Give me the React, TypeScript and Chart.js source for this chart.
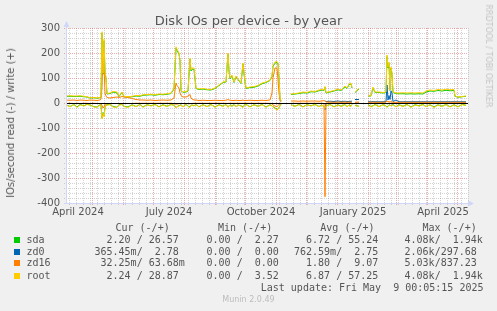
import React, { useEffect, useRef } from 'react';
import { Chart, registerables } from 'chart.js';

Chart.register(...registerables);

// ---------- data (x = days since 5 Apr 2024) ----------
const days = [
  0, 4, 8, 11, 14, 18, 21, 24, 28, 31,
  34, 35, 36, 37, 38, 39, 40, 41, 44, 47,
  51, 53, 56, 58, 62, 66, 70, 74, 77, 81,
  85, 89, 93, 97, 101, 105, 108, 110, 111, 113,
  114, 115, 117, 120, 122, 124, 125, 126, 128, 130,
  133, 137, 141, 145, 149, 153, 157, 160, 162, 163,
  164, 166, 168, 170, 172, 175, 177, 178, 180, 184,
  188, 192, 196, 200, 204, 206, 207, 209, 211, 212,
  213, 214, 215, 220, 225, 229, 233, 237, 241, 245,
  249, 253, 256, 258, 259, 260, 264, 268, 272, 275,
  279, 281, 283, 285, 286, 287, 289, 293, 297, 302,
  305, 307, 309, 313, 317, 320, 321, 322, 323, 324,
  325, 326, 327, 330, 333, 337, 341, 345, 349, 353,
  357, 360, 364, 368, 372, 376, 380, 384, 388, 389,
  392, 396, 400,
];

const rootWrite = [
  28, 29, 28, 28, 29, 27, 25, 21, 22, 20,
  22, 25, 285, 120, 255, 130, 100, 38, 40, 46,
  44, 28, 44, 27, 25, 27, 30, 29, 33, 34,
  35, 33, 36, 35, 37, 40, 60, 225, 215, 200,
  172, 52, 44, 46, 50, 180, 132, 140, 140, 60,
  56, 58, 55, 54, 60, 72, 84, 86, 200, 132,
  100, 112, 84, 108, 96, 80, 160, 120, 60, 64,
  66, 70, 80, 84, 92, 110, 150, 164, 166, 160,
  100, 20, 10, null, 36, 38, 40, 44, 42, 48,
  46, 52, 54, 52, 66, 42, 46, 50, 56, 52,
  68, 60, 76, 80, 62, null, 44, 60, null, 28,
  30, 64, 44, 44, 42, 44, 192, 144, 164, 52,
  144, 120, 44, 40, 40, 41, 40, 41, 40, 41,
  40, 48, 52, 50, 54, 52, 55, 53, 54, 28,
  24, 26, 28,
];

const sdaWrite = [
  26, 27, 26, 26, 27, 25, 24, 20, 21, 19,
  21, 24, 280, 115, 248, 125, 96, 36, 38, 44,
  40, 26, 42, 25, 24, 25, 28, 27, 31, 32,
  33, 31, 34, 33, 35, 38, 56, 220, 210, 196,
  168, 50, 42, 44, 48, 176, 128, 136, 134, 58,
  54, 56, 53, 52, 58, 70, 82, 84, 196, 128,
  97, 108, 82, 105, 94, 78, 156, 116, 58, 62,
  63, 68, 77, 82, 90, 106, 146, 160, 162, 156,
  96, 18, 9, null, 34, 36, 38, 41, 40, 45,
  44, 49, 52, 50, 64, 40, 44, 48, 53, 50,
  65, 58, 73, 77, 60, null, 42, 57, null, 27,
  29, 60, 42, 42, 40, 42, 186, 140, 158, 50,
  140, 115, 42, 38, 37, 37, 36, 37, 36, 37,
  36, 44, 48, 47, 50, 48, 51, 49, 50, 27,
  23, 25, 27,
];

const rootRead = [
  -8, -15, -6, -18, -7, -12, -6, -8, -16, -17,
  -8, -10, -64, -40, -55, -20, -10, -8, -6, -16,
  -18, -8, -6, -14, -18, -8, -15, -6, -17, -7,
  -12, -6, -16, -8, -14, -6, -10, -20, -15, -12,
  -10, -8, -16, -6, -14, -18, -10, -8, -12, -6,
  -16, -7, -15, -6, -17, -8, -14, -6, -18, -12,
  -8, -14, -6, -16, -8, -12, -18, -10, -6, -16,
  -7, -14, -6, -17, -8, -12, -16, -22, -28, -26,
  -20, -12, -6, null, -8, -14, -6, -16, -7, -12,
  -6, -15, -8, -18, -20, -12, -6, -16, -8, -14,
  -6, -16, -8, -14, -6, null, -10, -14, null, -8,
  -16, -12, -6, -15, -7, -12, -18, -14, -10, -8,
  -12, -10, -6, -16, -8, -14, -6, -17, -8, -12,
  -6, -15, -7, -18, -8, -14, -6, -16, -8, -10,
  -16, -6, -10,
];

const sdaRead = [
  -7, -14, -6, -16, -6, -11, -5, -8, -15, -16,
  -7, -9, -60, -38, -52, -18, -9, -7, -6, -14,
  -17, -7, -6, -13, -16, -7, -14, -6, -16, -7,
  -11, -6, -15, -7, -13, -6, -9, -18, -14, -11,
  -9, -7, -15, -5, -13, -16, -9, -8, -11, -6,
  -15, -7, -14, -6, -16, -7, -13, -6, -16, -11,
  -7, -13, -6, -15, -8, -11, -16, -9, -6, -15,
  -7, -13, -6, -16, -7, -11, -15, -20, -26, -24,
  -18, -11, -5, null, -7, -13, -6, -15, -7, -11,
  -6, -14, -7, -16, -18, -11, -6, -15, -7, -13,
  -6, -15, -7, -13, -6, null, -9, -13, null, -7,
  -14, -11, -6, -14, -7, -11, -16, -13, -9, -7,
  -11, -9, -6, -15, -7, -13, -6, -16, -7, -11,
  -6, -14, -7, -16, -7, -13, -6, -15, -7, -9,
  -15, -6, -9,
];

const zd16Write = [
  12, 11, 12, 10, 12, 11, 10, 12, 11, 10,
  12, 15, 60, 190, 150, 40, 28, 22, 20, 22,
  24, 22, 26, 24, 22, 18, 14, 12, 12, 11,
  12, 10, 11, 12, 11, 12, 20, 80, 70, 60,
  40, 30, 24, 24, 28, 34, 20, 16, 12, 12,
  10, 11, 10, 10, 11, 10, 10, 11, 14, 12,
  11, 10, 10, 11, 10, 10, 12, 10, 10, 11,
  10, 10, 11, 10, 12, 40, 100, 140, 140, 92,
  40, 10, 4, null, 8, 8, 7, 8, 7, 8,
  8, 7, 8, 10, 8, 4, 4, 3, 4, 3,
  4, 3, 4, 3, 4, null, 3, 4, null, 3,
  3, 4, 3, 3, 3, 4, 8, 6, 5, 4,
  6, 5, 3, 3, 3, 3, 3, 3, 3, 3,
  3, 3, 3, 3, 3, 3, 3, 3, 3, 3,
  3, 3, 3,
];

const zd16Read = [
  -2, -1, -2, -1, -2, -1, -1, -2, -1, -2,
  -2, -3, -10, -20, -15, -5, -3, -2, -2, -2,
  -2, -2, -2, -2, -2, -2, -1, -1, -1, -1,
  -1, -1, -1, -1, -1, -1, -2, -5, -4, -3,
  -2, -2, -2, -2, -2, -3, -2, -2, -1, -1,
  -1, -1, -1, -1, -1, -1, -1, -1, -2, -1,
  -1, -1, -1, -1, -1, -1, -1, -1, -1, -1,
  -1, -1, -1, -1, -1, -3, -8, -12, -15, -10,
  -5, -2, -1, null, -1, -1, -1, -1, -1, -1,
  -1, -1, -1, -2, -375, -2, -1, -1, -1, -1,
  -1, -1, -1, -1, -1, null, -1, -1, null, -1,
  -1, -1, -1, -1, -1, -1, -2, -1, -1, -1,
  -1, -1, -1, -1, -1, -1, -1, -1, -1, -1,
  -1, -1, -1, -1, -1, -1, -1, -1, -1, -1,
  -1, -1, -1,
];

const zd0Days = [
  259, 260, 264, 268, 272, 275, 279, 281, 283, 285,
  286, 287, 289, 293, 297, 302, 305, 307, 309, 313,
  317, 320, 321, 322, 323, 324, 325, 326, 327, 330,
  333, 337, 341, 345, 349, 353, 357, 360, 364, 368,
  372, 376, 380, 384, 388, 389, 392, 396, 400,
];

const zd0Write = [
  8, 6, 7, 6, 8, 6, 7, 6, 6, 7,
  7, null, 14, 14, null, 5, 5, 6, 5, 5,
  5, 6, 72, 12, 30, 14, 48, 40, 6, 12,
  5, 5, 5, 5, 5, 5, 5, 5, 5, 5,
  5, 5, 5, 5, 5, 5, 5, 5, 5,
];

const zd0Read = [
  -28, -2, -1, -1, -1, -1, -1, -1, -1, -1,
  -1, null, -1, -1, null, -1, -1, -1, -1, -1,
  -1, -1, -4, -2, -2, -1, -3, -2, -1, -1,
  -1, -1, -1, -1, -1, -1, -1, -1, -1, -1,
  -1, -1, -1, -1, -1, -1, -1, -1, -1,
];

// ---------- axes ----------
const xMin = 0;
const xMax = 402;
const monthStartDays = [26, 57, 87, 118, 149, 179, 210, 240, 271, 302, 330, 361, 391];
const firstMondayDay = 3;
const xLabelDays = [12, 103, 195, 287, 377];
const xLabels = ['April 2024', 'July 2024', 'October 2024', 'January 2025', 'April 2025'];
const yMin = -400;
const yMax = 300;
const yTickValues = [-400, -300, -200, -100, 0, 100, 200, 300];
const yMinorStep = 20;

// ---------- legend ----------
const legendNames = ['sda', 'zd0', 'zd16', 'root'];
const legendColors = ['#00CC00', '#0066B3', '#FF8000', '#FFCC00'];
const curValues = ['  2.20 / 26.57 ', '365.45m/  2.78 ', ' 32.25m/ 63.68m', '  2.24 / 28.87 '];
const minValues = ['  0.00 /  2.27 ', '  0.00 /  0.00 ', '  0.00 /  0.00 ', '  0.00 /  3.52 '];
const avgValues = ['  6.72 / 55.24 ', '762.59m/  2.75 ', '  1.80 /  9.07 ', '  6.87 / 57.25 '];
const maxValues = ['  4.08k/  1.94k', '  2.06k/297.68 ', '  5.03k/837.23 ', '  4.08k/  1.94k'];
const headers = ['Cur (-/+)', 'Min (-/+)', 'Avg (-/+)', 'Max (-/+)'];

const SANS = "'DejaVu Sans', 'Liberation Sans', sans-serif";
const MONO = "'DejaVu Sans Mono', 'Liberation Mono', monospace";
const TEXT = '#555555';
const MINOR = 'rgba(140,140,140,0.38)';
const MAJOR = 'rgba(215,70,70,0.45)';
const AXIS = '#CFD6F8';

const rrdPlugin = {
  id: 'rrd',
  beforeDatasetsDraw(chart: any) {
    const { ctx, chartArea: a, scales } = chart;
    const x = scales.x;
    const y = scales.y;
    ctx.save();
    ctx.fillStyle = '#ffffff';
    ctx.fillRect(a.left, a.top, a.right - a.left, a.bottom - a.top);
    ctx.lineWidth = 1;
    ctx.setLineDash([1, 1]);
    ctx.strokeStyle = MINOR;
    ctx.beginPath();
    for (let v = yMin; v <= yMax; v += yMinorStep) {
      if (yTickValues.includes(v)) continue;
      const py = Math.round(y.getPixelForValue(v)) + 0.5;
      ctx.moveTo(a.left - 2, py);
      ctx.lineTo(a.right, py);
    }
    for (let d = firstMondayDay; d <= xMax; d += 7) {
      if (monthStartDays.includes(d)) continue;
      const px = Math.round(x.getPixelForValue(d)) + 0.5;
      ctx.moveTo(px, a.top);
      ctx.lineTo(px, a.bottom + 2);
    }
    ctx.stroke();
    ctx.strokeStyle = MAJOR;
    ctx.beginPath();
    for (const v of yTickValues) {
      const py = Math.round(y.getPixelForValue(v)) + 0.5;
      ctx.moveTo(a.left - 2, py);
      ctx.lineTo(a.right, py);
    }
    for (const d of monthStartDays) {
      const px = Math.round(x.getPixelForValue(d)) + 0.5;
      ctx.moveTo(px, a.top);
      ctx.lineTo(px, a.bottom + 2);
    }
    ctx.stroke();
    ctx.restore();
  },
  afterDatasetsDraw(chart: any) {
    const { ctx, chartArea: a, scales } = chart;
    const y = scales.y;
    ctx.save();
    ctx.lineWidth = 1;
    ctx.setLineDash([]);
    // zero line
    const zy = Math.round(y.getPixelForValue(0)) + 0.5;
    ctx.strokeStyle = '#000000';
    ctx.beginPath();
    ctx.moveTo(a.left, zy);
    ctx.lineTo(a.right, zy);
    ctx.stroke();
    // axes
    const ax = Math.round(a.left) + 0.5;
    const ay = Math.round(a.bottom) + 0.5;
    ctx.strokeStyle = AXIS;
    ctx.beginPath();
    ctx.moveTo(ax, ay);
    ctx.lineTo(ax, a.top - 2);
    ctx.moveTo(a.left - 2, ay);
    ctx.lineTo(a.right + 1, ay);
    ctx.stroke();
    ctx.fillStyle = AXIS;
    ctx.beginPath();
    ctx.moveTo(ax - 3, a.top - 1);
    ctx.lineTo(ax + 3, a.top - 1);
    ctx.lineTo(ax, a.top - 7);
    ctx.closePath();
    ctx.fill();
    ctx.beginPath();
    ctx.moveTo(a.right, ay - 3);
    ctx.lineTo(a.right, ay + 3);
    ctx.lineTo(a.right + 6, ay);
    ctx.closePath();
    ctx.fill();
    ctx.restore();
  },
};

type TxtProps = {
  x: number;
  y: number;
  text: string;
  align?: 'left' | 'center' | 'right';
  size?: number;
  color?: string;
  font?: string;
  rotate?: number;
};

function Txt({ x, y, text, align = 'left', size = 10, color = TEXT, font = SANS, rotate = 0 }: TxtProps) {
  const tx = align === 'left' ? '0' : align === 'center' ? '-50%' : '-100%';
  return (
    <div
      style={{
        position: 'absolute',
        left: x,
        top: y,
        transform: `translate(${tx}, -50%)` + (rotate ? ` rotate(${rotate}deg)` : ''),
        transformOrigin: rotate ? 'center center' : undefined,
        fontFamily: font,
        fontSize: size,
        lineHeight: 1,
        color,
        whiteSpace: 'pre',
      }}
    >
      {text}
    </div>
  );
}

export default function App() {
  const ref = useRef<HTMLCanvasElement>(null);

  useEffect(() => {
    document.body.style.margin = '0';
    const canvas = ref.current;
    if (!canvas) return;
    const pts = (xs: number[], ys: (number | null)[]) => xs.map((x, i) => ({ x, y: ys[i] }));
    const ds = (label: string, xs: number[], ys: (number | null)[], color: string, order: number) => ({
      label,
      data: pts(xs, ys),
      borderColor: color,
      backgroundColor: color,
      borderWidth: 1,
      pointRadius: 0,
      tension: 0,
      spanGaps: false,
      fill: false,
      order,
    });
    const chart = new Chart(canvas, {
      type: 'line',
      data: {
        datasets: [
          ds('root write', days, rootWrite, legendColors[3], 0),
          ds('root read', days, rootRead, legendColors[3], 0),
          ds('zd16 write', days, zd16Write, legendColors[2], 1),
          ds('zd16 read', days, zd16Read, legendColors[2], 1),
          ds('zd0 write', zd0Days, zd0Write, legendColors[1], 2),
          ds('zd0 read', zd0Days, zd0Read, legendColors[1], 2),
          ds('sda write', days, sdaWrite, legendColors[0], 3),
          ds('sda read', days, sdaRead, legendColors[0], 3),
        ] as any,
      },
      options: {
        animation: false,
        responsive: false,
        devicePixelRatio: 1,
        events: [],
        layout: { padding: { left: 0, top: 28, right: 29, bottom: 88 } },
        plugins: {
          legend: { display: false },
          tooltip: { enabled: false },
          title: { display: false },
        },
        scales: {
          x: {
            type: 'linear',
            min: xMin,
            max: xMax,
            grid: { display: false, drawTicks: false },
            border: { display: false },
            afterBuildTicks: (s: any) => {
              s.ticks = xLabelDays.map((v) => ({ value: v }));
            },
            afterFit: (s: any) => {
              s.height = 20;
            },
            ticks: {
              autoSkip: false,
              maxRotation: 0,
              minRotation: 0,
              padding: 3,
              color: TEXT,
              font: { family: SANS, size: 10 },
              callback: (_v: any, i: number) => xLabels[i],
            },
          },
          y: {
            type: 'linear',
            min: yMin,
            max: yMax,
            grid: { display: false, drawTicks: false },
            border: { display: false },
            afterBuildTicks: (s: any) => {
              s.ticks = yTickValues.map((v) => ({ value: v }));
            },
            afterFit: (s: any) => {
              s.width = 66;
            },
            ticks: {
              padding: 6,
              color: TEXT,
              font: { family: SANS, size: 10 },
              callback: (v: any) => String(v),
            },
          },
        },
      } as any,
      plugins: [rrdPlugin],
    });
    return () => chart.destroy();
  }, []);

  const rowY = [240, 251.7, 263.4, 275.6];
  const cellX = [94.5, 194.5, 294, 392.5];
  const headerX = [115.5, 218, 320.3, 422.5];
  const cols = [curValues, minValues, avgValues, maxValues];

  return (
    <div
      style={{
        position: 'absolute',
        left: 0,
        top: 0,
        width: 497,
        height: 311,
        background: '#F0F0F0',
        overflow: 'hidden',
      }}
    >
      <canvas ref={ref} width={497} height={311} style={{ position: 'absolute', left: 0, top: 0, width: 497, height: 311 }} />
      <Txt x={248.5} y={20} text="Disk IOs per device - by year" align="center" size={13} />
      <Txt x={10.7} y={123} text="IOs/second read (-) / write (+)" align="center" size={10} rotate={-90} />
      <Txt x={488} y={56} text="RRDTOOL / TOBI OETIKER" align="center" size={8} color="#c4c4c4" rotate={90} />
      {headers.map((h, i) => (
        <Txt key={h} x={headerX[i]} y={227.8} text={h} font={MONO} />
      ))}
      {legendNames.map((n, r) => (
        <React.Fragment key={n}>
          <div
            style={{
              position: 'absolute',
              left: 14,
              top: rowY[r] - 3,
              width: 6,
              height: 6,
              background: legendColors[r],
            }}
          />
          <Txt x={26.5} y={rowY[r]} text={n} font={MONO} />
          {cols.map((c, ci) => (
            <Txt key={ci} x={cellX[ci]} y={rowY[r]} text={c[r]} font={MONO} />
          ))}
        </React.Fragment>
      ))}
      <Txt x={483.5} y={287.8} text="Last update: Fri May  9 00:05:15 2025" align="right" font={MONO} />
      <Txt x={248.5} y={299.7} text="Munin 2.0.49" align="center" size={8} color="#bdbdbd" />
    </div>
  );
}
